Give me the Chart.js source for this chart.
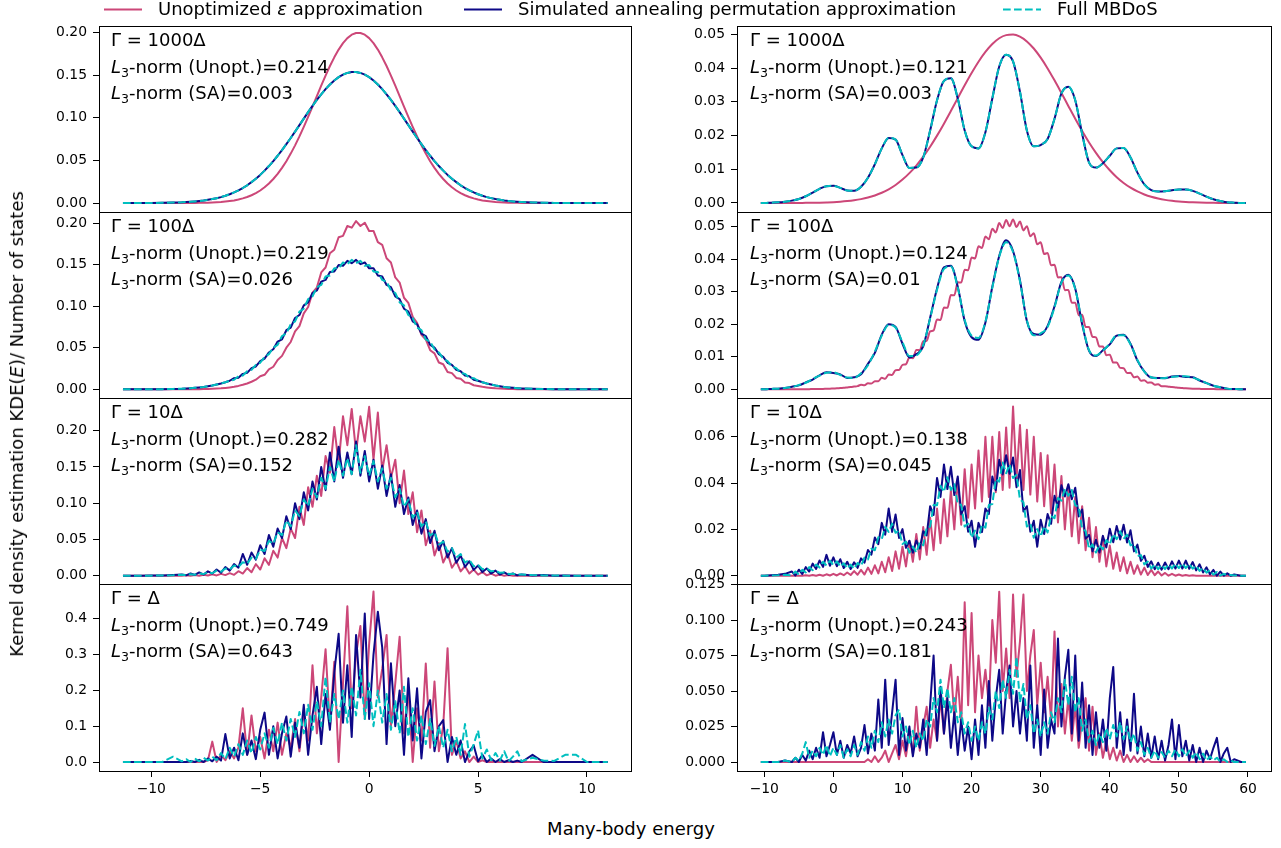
<!DOCTYPE html>
<html>
<head>
<meta charset="utf-8">
<script src="https://cdn.jsdelivr.net/npm/chart.js@4.4.1/dist/chart.umd.min.js"></script>
<style>
html,body{margin:0;padding:0;background:#fff;}
#fig{position:relative;width:1281px;height:848px;overflow:hidden;background:#fff;font-family:'DejaVu Sans',sans-serif;color:#000;}
#fig canvas{position:absolute;}
.txt{position:absolute;font-size:18px;line-height:18px;white-space:nowrap;z-index:5;}
.txt sub{font-size:0.7em;vertical-align:baseline;position:relative;top:0.3em;line-height:0;}
#leg{position:absolute;left:0;top:0;width:1281px;height:24px;z-index:6;}
</style>
</head>
<body>
<div id="fig"></div>
<script>
// ---------------- DATA ----------------
const legendLabels = ['Unoptimized <i>ε</i> approximation', 'Simulated annealing permutation approximation', 'Full MBDoS'];
const xAxisTitle = 'Many-body energy';
const yAxisTitle = 'Kernel density estimation KDE(<i>E</i>)/ Number of states';

const gammaLabels = ['Γ = 1000Δ', 'Γ = 100Δ', 'Γ = 10Δ', 'Γ = Δ'];
const l3UnoptLeft = ['0.214', '0.219', '0.282', '0.749'];
const l3SALeft = ['0.003', '0.026', '0.152', '0.643'];
const l3UnoptRight = ['0.121', '0.124', '0.138', '0.243'];
const l3SARight = ['0.003', '0.01', '0.045', '0.181'];

const xTicksLeft = [-10, -5, 0, 5, 10];
const xTickLabelsLeft = ['\u221210', '\u22125', '0', '5', '10'];
const xTicksRight = [-10, 0, 10, 20, 30, 40, 50, 60];
const xTickLabelsRight = ['\u221210', '0', '10', '20', '30', '40', '50', '60'];

const yTicksL123 = [0, 0.05, 0.10, 0.15, 0.20];
const yTickLabelsL123 = ['0.00', '0.05', '0.10', '0.15', '0.20'];
const yTicksL4 = [0, 0.1, 0.2, 0.3, 0.4];
const yTickLabelsL4 = ['0.0', '0.1', '0.2', '0.3', '0.4'];
const yTicksR12 = [0, 0.01, 0.02, 0.03, 0.04, 0.05];
const yTickLabelsR12 = ['0.00', '0.01', '0.02', '0.03', '0.04', '0.05'];
const yTicksR3 = [0, 0.02, 0.04, 0.06];
const yTickLabelsR3 = ['0.00', '0.02', '0.04', '0.06'];
const yTicksR4 = [0, 0.025, 0.05, 0.075, 0.1, 0.125];
const yTickLabelsR4 = ['0.000', '0.025', '0.050', '0.075', '0.100', '0.125'];

// Left column energies
const xLeft = [-11.3,-10.5,-10,-9.5,-9,
 -8.6,-8.4,-8.2,-8,-7.8,-7.6,-7.4,-7.2,-7,-6.8,
 -6.6,-6.4,-6.2,-6,-5.8,-5.6,-5.4,-5.2,-5,-4.8,
 -4.6,-4.4,-4.2,-4,-3.8,-3.6,-3.4,-3.2,-3,-2.8,
 -2.6,-2.4,-2.2,-2,-1.8,-1.6,-1.4,-1.2,-1,-0.8,
 -0.6,-0.4,-0.2,0,0.2,0.4,0.6,0.8,1,1.2,
 1.4,1.6,1.8,2,2.2,2.4,2.6,2.8,3,3.2,
 3.4,3.6,3.8,4,4.2,4.4,4.6,4.8,5,5.2,
 5.4,5.6,5.8,6,6.2,6.4,6.6,6.8,7,
 7.5,8,8.5,9,9.5,10,10.5,10.95];

// Gamma = 1000 Delta (left)
const left1000Unopt = [0,0,0,0,0,
 0,0,.0001,.0001,.0002,.0003,.0004,.0006,.0009,.0012,
 .0017,.0023,.0030,.0041,.0054,.0070,.0091,.0116,.0147,.0185,
 .0229,.0282,.0343,.0413,.0491,.0580,.0677,.0782,.0894,.1011,
 .1133,.1256,.1378,.1497,.1609,.1711,.1802,.1878,.1937,.1977,
 .1997,.1997,.1977,.1937,.1878,.1802,.1711,.1609,.1497,.1378,
 .1256,.1133,.1011,.0894,.0782,.0677,.0580,.0491,.0413,.0343,
 .0282,.0229,.0185,.0147,.0116,.0091,.0070,.0054,.0041,.0030,
 .0023,.0017,.0012,.0009,.0006,.0004,.0003,.0002,.0001,
 0,0,0,0,0,0,0,0];
const left1000SA = [0,0,.0001,.0002,.0005,
 .0008,.0011,.0014,.0018,.0023,.0029,.0037,.0046,.0057,.0069,
 .0085,.0103,.0124,.0148,.0176,.0208,.0245,.0285,.0330,.0380,
 .0434,.0492,.0555,.0622,.0692,.0764,.0839,.0915,.0991,.1067,
 .1140,.1211,.1277,.1338,.1392,.1439,.1478,.1508,.1528,.1539,
 .1539,.1528,.1508,.1478,.1439,.1392,.1338,.1277,.1211,.1140,
 .1067,.0991,.0915,.0839,.0764,.0692,.0622,.0555,.0492,.0434,
 .0380,.0330,.0285,.0245,.0208,.0176,.0148,.0124,.0103,.0085,
 .0069,.0057,.0046,.0037,.0029,.0023,.0018,.0014,.0011,
 .0006,.0003,.0001,.0001,0,0,0,0];
const left1000Full = [0,0,.0001,.0002,.0005,
 .0008,.0011,.0014,.0018,.0023,.0029,.0037,.0046,.0057,.0069,
 .0085,.0103,.0124,.0148,.0176,.0208,.0245,.0285,.0330,.0380,
 .0434,.0492,.0555,.0622,.0692,.0764,.0839,.0915,.0991,.1067,
 .1140,.1211,.1277,.1338,.1392,.1439,.1478,.1508,.1528,.1539,
 .1539,.1528,.1508,.1478,.1439,.1392,.1338,.1277,.1211,.1140,
 .1067,.0991,.0915,.0839,.0764,.0692,.0622,.0555,.0492,.0434,
 .0380,.0330,.0285,.0245,.0208,.0176,.0148,.0124,.0103,.0085,
 .0069,.0057,.0046,.0037,.0029,.0023,.0018,.0014,.0011,
 .0006,.0003,.0001,.0001,0,0,0,0];

// Gamma = 100 Delta (left)
const left100Unopt = [0,0,0,0,0,
 0,0,.0001,.0001,.0002,.0003,.0004,.0006,.0009,.0012,
 .0017,.0023,.0030,.0041,.0054,.0070,.0091,.0116,.0157,.0175,
 .0239,.0272,.0353,.0403,.0501,.0570,.0697,.0762,.0914,.0991,
 .1163,.1226,.1408,.1467,.1639,.1681,.1832,.1848,.1967,.1947,
 .2027,.1967,.2007,.1907,.1908,.1772,.1741,.1579,.1527,.1348,
 .1286,.1103,.1041,.0874,.0802,.0657,.0600,.0471,.0433,.0323,
 .0302,.0209,.0195,.0137,.0126,.0081,.0075,.0049,.0041,.0030,
 .0023,.0017,.0012,.0009,.0006,.0004,.0003,.0002,.0001,
 0,0,0,0,0,0,0,0];
const left100SA = [0,0,.0001,.0002,.0005,
 .0008,.0011,.0014,.0018,.0023,.0029,.0037,.0046,.0057,.0069,
 .0085,.0103,.0134,.0138,.0186,.0198,.0255,.0275,.0340,.0370,
 .0444,.0482,.0575,.0602,.0712,.0744,.0859,.0895,.1011,.1047,
 .1160,.1191,.1297,.1318,.1412,.1419,.1498,.1488,.1548,.1519,
 .1559,.1508,.1528,.1458,.1459,.1372,.1358,.1257,.1231,.1120,
 .1087,.0971,.0935,.0819,.0784,.0672,.0642,.0535,.0502,.0424,
 .0390,.0320,.0295,.0235,.0218,.0166,.0158,.0114,.0103,.0085,
 .0069,.0057,.0046,.0037,.0029,.0023,.0018,.0014,.0011,
 .0006,.0003,.0001,.0001,0,0,0,0];
const left100Full = [0,0,.0001,.0002,.0005,
 .0008,.0011,.0014,.0018,.0023,.0029,.0037,.0046,.0057,.0069,
 .0085,.0103,.0114,.0158,.0166,.0218,.0235,.0295,.0320,.0390,
 .0424,.0502,.0535,.0642,.0672,.0784,.0819,.0935,.0971,.1087,
 .1120,.1231,.1257,.1358,.1372,.1459,.1458,.1528,.1508,.1559,
 .1519,.1548,.1488,.1498,.1419,.1412,.1318,.1297,.1191,.1160,
 .1047,.1011,.0895,.0859,.0744,.0712,.0602,.0575,.0482,.0444,
 .0370,.0340,.0275,.0255,.0198,.0186,.0138,.0134,.0103,.0085,
 .0069,.0057,.0046,.0037,.0029,.0023,.0018,.0014,.0011,
 .0006,.0003,.0001,.0001,0,0,0,0];

// Gamma = 10 Delta (left)
const left10Unopt = [0,0,0,0,0,
 0,.0005,0,.0008,0,.0012,.0002,.0018,.0004,.0025,
 .0008,.0035,.0012,.0062,.0030,.0105,.0048,.0160,.0085,.0240,
 .0150,.0345,.0250,.0520,.0380,.0650,.0520,.0950,.0700,.1220,
 .0950,.1380,.1100,.1650,.1420,.2050,.1550,.2200,.1800,.2300,
 .1700,.2200,.1850,.2330,.1600,.2250,.1450,.1800,.1350,.1600,
 .1000,.1450,.0850,.1150,.0600,.0900,.0420,.0620,.0280,.0450,
 .0180,.0310,.0110,.0200,.0060,.0130,.0030,.0085,.0015,.0050,
 .0005,.0030,0,.0015,0,.0008,0,.0003,0,
 0,0,0,0,0,0,0,0];
const left10SA = [0,0,.0002,.0004,.0010,
 .0015,.0005,.0030,.0010,.0045,.0015,.0060,.0030,.0085,.0040,
 .0120,.0070,.0160,.0110,.0300,.0150,.0320,.0220,.0420,.0300,
 .0560,.0400,.0650,.0520,.0820,.0640,.1000,.0780,.1150,.0900,
 .1300,.1050,.1500,.1180,.1700,.1300,.1780,.1350,.1700,.1400,
 .1850,.1380,.1720,.1300,.1600,.1200,.1520,.1100,.1400,.0950,
 .1250,.0850,.1080,.0700,.0900,.0580,.0780,.0450,.0620,.0350,
 .0480,.0250,.0380,.0180,.0280,.0120,.0200,.0080,.0140,.0050,
 .0100,.0030,.0070,.0015,.0045,.0010,.0030,.0005,.0018,
 .0004,.0008,0,.0003,0,0,0,0];
const left10Full = [0,0,.0001,.0003,.0006,
 .0014,.0008,.0020,.0014,.0032,.0022,.0048,.0034,.0070,.0056,
 .0100,.0085,.0140,.0120,.0185,.0165,.0250,.0230,.0360,.0340,
 .0480,.0440,.0600,.0560,.0760,.0680,.0900,.0820,.1050,.0960,
 .1200,.1080,.1350,.1200,.1500,.1300,.1600,.1380,.1620,.1400,
 .1800,.1420,.1650,.1380,.1580,.1300,.1480,.1200,.1350,.1080,
 .1200,.0950,.1050,.0800,.0880,.0680,.0750,.0550,.0600,.0430,
 .0470,.0330,.0380,.0250,.0300,.0180,.0220,.0130,.0150,.0090,
 .0100,.0060,.0070,.0040,.0045,.0025,.0028,.0015,.0016,
 .0008,.0004,.0002,.0001,0,0,0,0];

// Gamma = Delta (left)
const left1Unopt = [0,0,0,0,0,
 0,0,0,0,0,0,.005,.057,0,.020,
 .005,.030,.010,.040,.150,.020,.130,.030,.070,.010,
 .090,.030,.110,.020,.080,.040,.120,.030,.140,.060,
 .270,.080,.180,.315,.100,.280,0,.220,.435,.150,
 .300,.380,.120,.330,.476,.180,.260,.355,.100,.220,
 .350,.080,.200,0,.150,.060,.275,.040,.225,.030,
 .100,.318,.020,.060,.010,.030,0,.015,0,.005,
 0,0,0,0,0,0,0,0,0,
 0,0,0,0,0,0,0,0];
const left1SA = [0,0,0,0,0,
 0,0,.003,0,.006,0,.010,.002,.015,.004,
 .078,.010,.040,.005,.080,.020,.060,.008,.090,.138,
 .020,.100,.010,.080,.127,.015,.110,.040,.160,.020,
 .130,.210,.050,.190,.090,.250,.358,.110,.270,.070,
 .355,.180,.415,.120,.300,.420,.320,.050,.276,.100,
 .200,.020,.234,.060,.206,.010,.140,.173,.030,.100,
 .117,0,.070,.020,.060,0,.030,.046,.002,.020,
 0,.010,0,.008,0,.005,0,.004,0,
 .020,0,0,0,0,0,0,0];
const left1Full = [0,0,0,0,.015,
 .002,.008,0,.010,.002,.012,.004,.015,.005,.025,
 .008,.040,.015,.050,.020,.060,.025,.070,.035,.080,
 .040,.095,.050,.110,.060,.120,.070,.140,.080,.160,
 .090,.170,.100,.238,.110,.190,.120,.200,.110,.210,
 .130,.257,.120,.220,.100,.200,.110,.190,.090,.170,
 .080,.210,.070,.150,.060,.130,.050,.120,.045,.100,
 .040,.090,.030,.070,.020,.106,.015,.050,.088,.010,
 .035,.005,.025,.004,.030,.002,.015,.030,.002,
 .012,.004,.003,.020,.020,0,0,0];

// Right column energies (coarse grid)
const xRightCoarse = [-10.5,
 -10,-9,-8,-7,-6,-5,-4,-3,-2,-1,
 0,1,2,3,4,5,6,7,8,9,
 10,11,12,13,14,15,16,17,18,19,
 20,21,22,23,24,25,26,27,28,29,
 30,31,32,33,34,35,36,37,38,39,
 40,41,42,43,44,45,46,47,48,49,
 50,51,52,53,54,55,56,57,58,59,
 59.7];

const right1000Unopt = [0,
 0,0,0,0,.00001,.00003,.00004,.00007,.00011,.00017,
 .00025,.00038,.00056,.00081,.00115,.00161,.00223,.00303,.00406,.00535,
 .00694,.00885,.01111,.01374,.0167,.01998,.02353,.02727,.0311,.0349,
 .03854,.04189,.04481,.04716,.04886,.0498,.04996,.04933,.04793,.04582,
 .04311,.03992,.03638,.03262,.02879,.025,.02137,.01797,.01488,.01212,
 .00971,.00766,.00595,.00454,.00342,.00253,.00184,.00132,.00093,.00065,
 .00044,.0003,.0002,.00013,.00008,.00005,.00003,.00002,.00001,0,
 0];
const right1000SA = [0,
 0,.0001,.0002,.0004,.0007,.0012,.0020,.0031,.0042,.0050,
 .0051,.0045,.0037,.0036,.0048,.0075,.0115,.0162,.0193,.0188,
 .0142,.0104,.0105,.0135,.0215,.0305,.0362,.0370,.0310,.0215,
 .0168,.0162,.0210,.0310,.0405,.0440,.0420,.0330,.0215,.0168,
 .0172,.0190,.0250,.0325,.0345,.0305,.0205,.0120,.0105,.0118,
 .0140,.0162,.0163,.0135,.0090,.0055,.0038,.0034,.0035,.0038,
 .0040,.0040,.0036,.0028,.0019,.0011,.0006,.0002,.0001,0,
 0];
const right1000Full = [0,
 0,.0001,.0002,.0004,.0007,.0012,.0020,.0031,.0042,.0050,
 .0051,.0045,.0037,.0036,.0048,.0075,.0115,.0162,.0193,.0188,
 .0142,.0104,.0105,.0135,.0215,.0305,.0362,.0370,.0310,.0215,
 .0168,.0162,.0210,.0310,.0405,.0440,.0420,.0330,.0215,.0168,
 .0172,.0190,.0250,.0325,.0345,.0305,.0205,.0120,.0105,.0118,
 .0140,.0162,.0163,.0135,.0090,.0055,.0038,.0034,.0035,.0038,
 .0040,.0040,.0036,.0028,.0019,.0011,.0006,.0002,.0001,0,
 0];
const right100SA = [0,
 0,.0001,.0002,.0004,.0008,.0012,.0021,.0030,.0043,.0052,
 .0050,.0046,.0035,.0037,.0046,.0078,.0112,.0168,.0200,.0192,
 .0140,.0098,.0108,.0132,.0220,.0310,.0375,.0380,.0315,.0210,
 .0160,.0152,.0205,.0315,.0410,.0458,.0425,.0335,.0210,.0170,
 .0168,.0195,.0255,.0330,.0352,.0310,.0200,.0118,.0102,.0120,
 .0138,.0165,.0168,.0140,.0088,.0055,.0036,.0035,.0034,.0039,
 .0041,.0038,.0037,.0027,.0019,.0011,.0006,.0002,.0001,0,
 0];
const right100Full = [0,
 0,.0001,.0002,.0004,.0007,.0013,.0020,.0032,.0042,.0051,
 .0052,.0044,.0036,.0035,.0049,.0074,.0116,.0165,.0198,.0190,
 .0145,.0102,.0104,.0136,.0218,.0306,.0370,.0378,.0312,.0213,
 .0165,.0158,.0208,.0312,.0408,.0452,.0422,.0332,.0212,.0166,
 .0172,.0192,.0252,.0328,.0350,.0308,.0204,.0120,.0104,.0119,
 .0140,.0166,.0166,.0138,.0090,.0054,.0037,.0034,.0035,.0038,
 .0040,.0040,.0036,.0028,.0019,.0011,.0006,.0002,.0001,0,
 0];

// Right column energies (fine grid)
const xRightFine = [-10.5,-10,-9,-8,-7,
 -6,-5.5,-5,-4.5,-4,-3.5,-3,-2.5,-2,-1.5,
 -1,-0.5,0,0.5,1,1.5,2,2.5,3,3.5,
 4,4.5,5,5.5,6,6.5,7,7.5,8,8.5,
 9,9.5,10,10.5,11,11.5,12,12.5,13,13.5,
 14,14.5,15,15.5,16,16.5,17,17.5,18,18.5,
 19,19.5,20,20.5,21,21.5,22,22.5,23,23.5,
 24,24.5,25,25.5,26,26.5,27,27.5,28,28.5,
 29,29.5,30,30.5,31,31.5,32,32.5,33,33.5,
 34,34.5,35,35.5,36,36.5,37,37.5,38,38.5,
 39,39.5,40,40.5,41,41.5,42,42.5,43,43.5,
 44,44.5,45,45.5,46,46.5,47,47.5,48,48.5,
 49,49.5,50,50.5,51,51.5,52,52.5,53,53.5,
 54,54.5,55,55.5,56,56.5,57,57.5,58,
 59,59.7];

const right100Unopt = [0,0,0,0,0,
 0,0,.00003,.00002,.00004,.00004,.00007,.00007,.00011,.00012,
 .00017,.00019,.00026,.0003,.00039,.00046,.00057,.00068,.00083,.00098,
 .00138,.00121,.00185,.00177,.00249,.0025,.00351,.00323,.00456,.00442,
 .00588,.0059,.00751,.00769,.00977,.00953,.01209,.01203,.01478,.0149,
 .01782,.0181,.02148,.0213,.02512,.02503,.02895,.02891,.03288,.03282,
 .03677,.03663,.0405,.04022,.04394,.04343,.04693,.04613,.04934,.04821,
 .05108,.04956,.05205,.05013,.05221,.04988,.05156,.04885,.05013,.04705,
 .04797,.04458,.04519,.04156,.04192,.03811,.03829,.03437,.03444,.03048,
 .03051,.02657,.02663,.02277,.0229,.01916,.01912,.01614,.01595,.01314,
 .01312,.01049,.01065,.0082,.00825,.00658,.0065,.00498,.00505,.00368,
 .00391,.00265,.00279,.00204,.00209,.00142,.00155,.00095,.00095,.00081,
 .00067,.00056,.00045,.00038,.00031,.00025,.0002,.00016,.00013,.0001,
 .00008,.00006,.00005,.00004,.00003,.00002,.00002,.00001,.00001,
 0,0];

const right10Unopt = [0,0,0,0,0,
 0,0,0,0,.0002,0,.0003,0,.0004,0,
 .0006,.0001,.0008,.0001,.0010,.0002,.0014,.0003,.0020,.0004,
 .0025,.0005,.0035,.0008,.0045,.0010,.0060,.0015,.0080,.0020,
 .0105,.0030,.0125,.0040,.0150,.0060,.0180,.0070,.0210,.0090,
 .0250,.0110,.0290,.0140,.0330,.0170,.0370,.0200,.0420,.0220,
 .0460,.0250,.0480,.0290,.0540,.0320,.0600,.0340,.0600,.0360,
 .0620,.0370,.0640,.0380,.0730,.0420,.0650,.0370,.0630,.0350,
 .0600,.0320,.0530,.0300,.0520,.0270,.0480,.0230,.0430,.0200,
 .0390,.0170,.0340,.0140,.0300,.0110,.0250,.0080,.0210,.0060,
 .0170,.0040,.0130,.0030,.0100,.0020,.0080,.0010,.0060,.0008,
 .0045,.0005,.0035,.0003,.0025,.0002,.0018,.0001,.0012,0,
 .0008,0,.0005,0,.0003,0,.0002,0,0,0,
 0,0,0,0,0,0,0,0,0,
 0,0];
const right10SA = [0,0,.0002,.0004,.0008,
 .0018,.0001,.0026,.0007,.0037,.0018,.0052,.0029,.0066,.0038,
 .0090,.0043,.0079,.0041,.0071,.0033,.0060,.0029,.0058,.0034,
 .0075,.0056,.0111,.0091,.0165,.0136,.0228,.0177,.0290,.0189,
 .0264,.0163,.0201,.0120,.0151,.0099,.0152,.0117,.0192,.0174,
 .0300,.0262,.0422,.0340,.0480,.0374,.0470,.0348,.0428,.0265,
 .0300,.0190,.0237,.0125,.0228,.0188,.0290,.0267,.0428,.0369,
 .0500,.0437,.0520,.0440,.0510,.0382,.0456,.0277,.0300,.0190,
 .0237,.0125,.0242,.0180,.0266,.0224,.0345,.0295,.0390,.0342,
 .0395,.0330,.0380,.0256,.0286,.0160,.0176,.0105,.0155,.0100,
 .0172,.0122,.0203,.0144,.0215,.0156,.0220,.0143,.0196,.0105,
 .0134,.0064,.0086,.0038,.0062,.0028,.0056,.0026,.0057,.0028,
 .0062,.0031,.0065,.0031,.0065,.0030,.0059,.0023,.0049,.0014,
 .0036,.0006,.0025,0,.0018,0,.0010,0,.0005,
 0,0];
const right10Full = [0,0,.0001,.0002,.0004,
 .0002,.0018,.0005,.0025,.0014,.0037,.0024,.0048,.0035,.0060,
 .0044,.0065,.0045,.0062,.0039,.0054,.0031,.0048,.0030,.0055,
 .0042,.0078,.0070,.0116,.0110,.0166,.0158,.0211,.0189,.0225,
 .0185,.0195,.0137,.0147,.0099,.0126,.0100,.0144,.0131,.0207,
 .0212,.0305,.0304,.0388,.0362,.0425,.0370,.0395,.0309,.0306,
 .0212,.0225,.0164,.0195,.0158,.0219,.0207,.0305,.0309,.0416,
 .0406,.0489,.0442,.0480,.0422,.0435,.0329,.0317,.0212,.0225,
 .0164,.0201,.0169,.0213,.0187,.0258,.0248,.0335,.0324,.0375,
 .0345,.0370,.0304,.0297,.0202,.0193,.0116,.0135,.0100,.0133,
 .0113,.0154,.0135,.0180,.0158,.0192,.0159,.0177,.0131,.0136,
 .0084,.0089,.0049,.0061,.0031,.0049,.0028,.0046,.0029,.0048,
 .0031,.0052,.0033,.0053,.0033,.0051,.0030,.0043,.0021,.0033,
 .0013,.0024,.0004,.0016,0,.0008,.0002,.0003,.0001,
 0,0];

const right1Unopt = [0,0,0,0,0,
 0,0,0,0,0,0,0,0,0,0,
 0,0,0,0,0,0,0,0,0,0,
 0,0,.002,0,.004,0,.003,.008,0,.006,
 .012,.002,.015,.004,.020,.006,.039,.008,.025,.039,
 .010,.030,.015,.045,.020,.050,.0685,.030,.060,.025,
 .1125,.040,.105,.035,.075,.045,.065,.040,.100,.070,
 .120,.050,.080,.045,.118,.060,.085,.118,.050,.075,
 .093,.040,.070,.035,.060,.030,.092,.025,.055,.020,
 .045,.015,.040,.010,.030,.045,.008,.039,.005,.020,
 .003,.015,.002,.010,.001,.008,0,.005,0,.004,
 0,.003,0,.002,0,0,0,0,0,0,
 0,0,0,0,0,0,0,0,0,0,
 0,0,0,0,0,0,0,0,0,
 0,0];
const right1SA = [0,0,0,0,.001,
 0,.003,0,.005,.001,.008,.002,.010,.003,.021,
 .004,.012,.021,.005,.015,.003,.012,.006,.018,.004,
 .010,.026,.006,.020,.008,.044,.010,.058,.012,.035,
 .058,.005,.031,.008,.025,.004,.020,.010,.030,.005,
 .040,.075,.015,.053,.020,.045,.010,.035,.005,.030,
 .008,.025,.002,.030,.005,.040,.010,.057,.015,.045,
 .065,.020,.050,.068,.025,.050,.020,.045,.015,.068,
 .010,.040,.005,.051,.010,.030,.020,.087,.025,.060,
 .079,.020,.075,.015,.056,.010,.040,.005,.035,.010,
 .030,.008,.045,.067,.010,.035,.005,.030,.008,.048,
 .006,.025,.004,.020,.003,.018,.002,.015,.001,.012,
 .030,.002,.026,.004,.015,.001,.012,0,.010,0,
 .008,.002,.010,.017,0,.006,.010,0,.002,
 0,0];
const right1Full = [0,0,0,0,.001,
 0,.003,.001,.006,.014,.003,.008,.004,.010,.005,
 .012,.004,.010,.005,.012,.003,.009,.004,.012,.005,
 .014,.008,.018,.010,.022,.014,.028,.018,.030,.020,
 .033,.037,.018,.025,.012,.022,.010,.020,.015,.030,
 .025,.045,.035,.058,.038,.052,.035,.045,.028,.035,
 .020,.028,.015,.025,.015,.028,.020,.038,.030,.050,
 .038,.058,.045,.065,.048,.074,.042,.055,.030,.040,
 .020,.030,.018,.028,.020,.035,.028,.045,.035,.058,
 .040,.060,.035,.045,.022,.030,.014,.022,.012,.020,
 .014,.024,.016,.026,.018,.028,.016,.025,.014,.020,
 .008,.014,.005,.010,.003,.008,.003,.007,.003,.008,
 .004,.009,.004,.009,.004,.008,.003,.007,.002,.006,
 .001,.004,.001,.003,0,.002,0,.001,0,
 0,0];

// ---------------- RENDERING ----------------
const PINK = '#cc4778', BLUE = '#0d0887', CYAN = '#00bfbf';
const ROW_TOPS = [26, 212, 398, 584, 771];
Chart.defaults.font.family = "'DejaVu Sans', sans-serif";

const panels = [
  {col:0,row:0,ymin:-0.01057,ymax:0.2079,yt:yTicksL123,ytl:yTickLabelsL123,
   s:[[xLeft,left1000Unopt],[xLeft,left1000SA],[xLeft,left1000Full]],smooth:false},
  {col:0,row:1,ymin:-0.01048,ymax:0.2136,yt:yTicksL123,ytl:yTickLabelsL123,
   s:[[xLeft,left100Unopt],[xLeft,left100SA],[xLeft,left100Full]],smooth:false},
  {col:0,row:2,ymin:-0.01145,ymax:0.2451,yt:yTicksL123,ytl:yTickLabelsL123,
   s:[[xLeft,left10Unopt],[xLeft,left10SA],[xLeft,left10Full]],smooth:false},
  {col:0,row:3,ymin:-0.0251,ymax:0.4972,yt:yTicksL4,ytl:yTickLabelsL4,
   s:[[xLeft,left1Unopt],[xLeft,left1SA],[xLeft,left1Full]],smooth:false},
  {col:1,row:0,ymin:-0.00267,ymax:0.0525,yt:yTicksR12,ytl:yTickLabelsR12,
   s:[[xRightCoarse,right1000Unopt],[xRightCoarse,right1000SA],[xRightCoarse,right1000Full]],smooth:true},
  {col:1,row:1,ymin:-0.00268,ymax:0.0545,yt:yTicksR12,ytl:yTickLabelsR12,
   s:[[xRightFine,right100Unopt],[xRightCoarse,right100SA],[xRightCoarse,right100Full]],smooth:true},
  {col:1,row:2,ymin:-0.00358,ymax:0.0767,yt:yTicksR3,ytl:yTickLabelsR3,
   s:[[xRightFine,right10Unopt],[xRightFine,right10SA],[xRightFine,right10Full]],smooth:false},
  {col:1,row:3,ymin:-0.00634,ymax:0.1254,yt:yTicksR4,ytl:yTickLabelsR4,
   s:[[xRightFine,right1Unopt],[xRightFine,right1SA],[xRightFine,right1Full]],smooth:false}
];

function pts(xs, ys) {
  const n = Math.min(xs.length, ys.length), out = [];
  for (let i = 0; i < n; i++) out.push({x: xs[i], y: ys[i]});
  return out;
}
function ds(xs, ys, color, order, dashed, smooth) {
  return {
    data: pts(xs, ys), borderColor: color, backgroundColor: color,
    borderWidth: 2, pointRadius: 0, pointHoverRadius: 0, fill: false, order: order,
    borderDash: dashed ? [7.7, 3.3] : [], tension: 0,
    cubicInterpolationMode: smooth ? 'monotone' : 'default',
    borderJoinStyle: 'round', borderCapStyle: 'butt'
  };
}
const framePlugin = {
  id: 'frame',
  afterDatasetsDraw(chart) {
    const a = chart.chartArea, ctx = chart.ctx;
    ctx.save();
    ctx.strokeStyle = '#000';
    ctx.lineWidth = 1;
    ctx.strokeRect(Math.round(a.left) + 0.5, Math.round(a.top) + 0.5,
                   Math.round(a.right) - Math.round(a.left), Math.round(a.bottom) - Math.round(a.top));
    ctx.restore();
  }
};

const fig = document.getElementById('fig');
panels.forEach(p => {
  const colLeft = p.col === 0 ? 0 : 640;
  const colW = p.col === 0 ? 640 : 641;
  const yW = p.col === 0 ? 99 : 97;
  const padR = p.col === 0 ? 9 : 10;
  const top = ROW_TOPS[p.row], bot = ROW_TOPS[p.row + 1];
  const isBottom = p.row === 3;
  const h = (bot - top) + 16 + (isBottom ? 36 : 16);
  const cv = document.createElement('canvas');
  cv.width = colW; cv.height = h;
  cv.style.left = colLeft + 'px'; cv.style.top = (top - 16) + 'px';
  cv.style.width = colW + 'px'; cv.style.height = h + 'px';
  fig.appendChild(cv);
  const xt = p.col === 0 ? xTicksLeft : xTicksRight;
  const xtl = p.col === 0 ? xTickLabelsLeft : xTickLabelsRight;
  new Chart(cv, {
    type: 'line',
    data: { datasets: [
      ds(p.s[0][0], p.s[0][1], PINK, 3, false, p.smooth),
      ds(p.s[1][0], p.s[1][1], BLUE, 2, false, p.smooth),
      ds(p.s[2][0], p.s[2][1], CYAN, 1, true, p.smooth)
    ]},
    options: {
      responsive: false, animation: false, devicePixelRatio: 1,
      parsing: false, normalized: true, events: [],
      layout: { padding: { left: 0, right: padR, top: 16, bottom: isBottom ? 4 : 16 } },
      plugins: { legend: { display: false }, tooltip: { enabled: false } },
      scales: {
        x: {
          type: 'linear', min: p.col === 0 ? -12.40 : -13.95, max: p.col === 0 ? 12.02 : 63.33,
          display: isBottom,
          border: { display: false },
          grid: { display: true, drawOnChartArea: false, drawTicks: true, tickLength: 6, color: '#000', lineWidth: 1 },
          ticks: { autoSkip: false, maxRotation: 0, color: '#000', padding: 4,
                   font: { size: 13.9, family: "'DejaVu Sans', sans-serif" },
                   callback: (v, i) => xtl[i] },
          afterBuildTicks: axis => { axis.ticks = xt.map(v => ({ value: v })); },
          afterFit: s => { s.height = isBottom ? 32 : 0; }
        },
        y: {
          type: 'linear', min: p.ymin, max: p.ymax,
          border: { display: false },
          grid: { display: true, drawOnChartArea: false, drawTicks: true, tickLength: 6, color: '#000', lineWidth: 1 },
          ticks: { autoSkip: false, color: '#000', padding: 6,
                   font: { size: 13.9, family: "'DejaVu Sans', sans-serif" },
                   callback: (v, i) => p.ytl[i] },
          afterBuildTicks: axis => { axis.ticks = p.yt.map(v => ({ value: v })); },
          afterFit: s => { s.width = yW; }
        }
      }
    },
    plugins: [framePlugin]
  });

  // annotations
  const annLeft = p.col === 0 ? 111 : 750;
  const unopt = p.col === 0 ? l3UnoptLeft[p.row] : l3UnoptRight[p.row];
  const sa = p.col === 0 ? l3SALeft[p.row] : l3SARight[p.row];
  const lines = [
    gammaLabels[p.row],
    '<i>L</i><sub>3</sub>-norm (Unopt.)=' + unopt,
    '<i>L</i><sub>3</sub>-norm (SA)=' + sa
  ];
  const offs = [5.1, 31.8, 58.4];
  lines.forEach((t, k) => {
    const d = document.createElement('div');
    d.className = 'txt';
    d.style.left = annLeft + 'px';
    d.style.top = (top + offs[k]) + 'px';
    d.innerHTML = t;
    fig.appendChild(d);
  });
});

// legend
const leg = document.createElement('div');
leg.id = 'leg';
const legX = [[104, 142, 158], [464, 502, 518], [1003, 1041, 1057]];
const legColors = [PINK, BLUE, CYAN];
let svg = '<svg width="1281" height="24" style="position:absolute;left:0;top:0">';
legX.forEach((l, i) => {
  svg += '<line x1="' + l[0] + '" y1="9.5" x2="' + l[1] + '" y2="9.5" stroke="' + legColors[i] +
         '" stroke-width="2"' + (i === 2 ? ' stroke-dasharray="7.7 3.3"' : '') + '/>';
});
svg += '</svg>';
leg.innerHTML = svg;
legX.forEach((l, i) => {
  const s = document.createElement('div');
  s.className = 'txt';
  s.style.left = l[2] + 'px';
  s.style.top = '0px';
  s.innerHTML = legendLabels[i];
  leg.appendChild(s);
});
fig.appendChild(leg);

// axis titles
const xt = document.createElement('div');
xt.className = 'txt';
xt.style.left = '631px'; xt.style.top = '820px';
xt.style.transform = 'translateX(-50%)';
xt.innerHTML = xAxisTitle;
fig.appendChild(xt);

const yt = document.createElement('div');
yt.className = 'txt';
yt.style.left = '16.5px'; yt.style.top = '424px';
yt.style.transform = 'translate(-50%,-50%) rotate(-90deg)';
yt.innerHTML = yAxisTitle;
fig.appendChild(yt);
</script>
</body>
</html>
